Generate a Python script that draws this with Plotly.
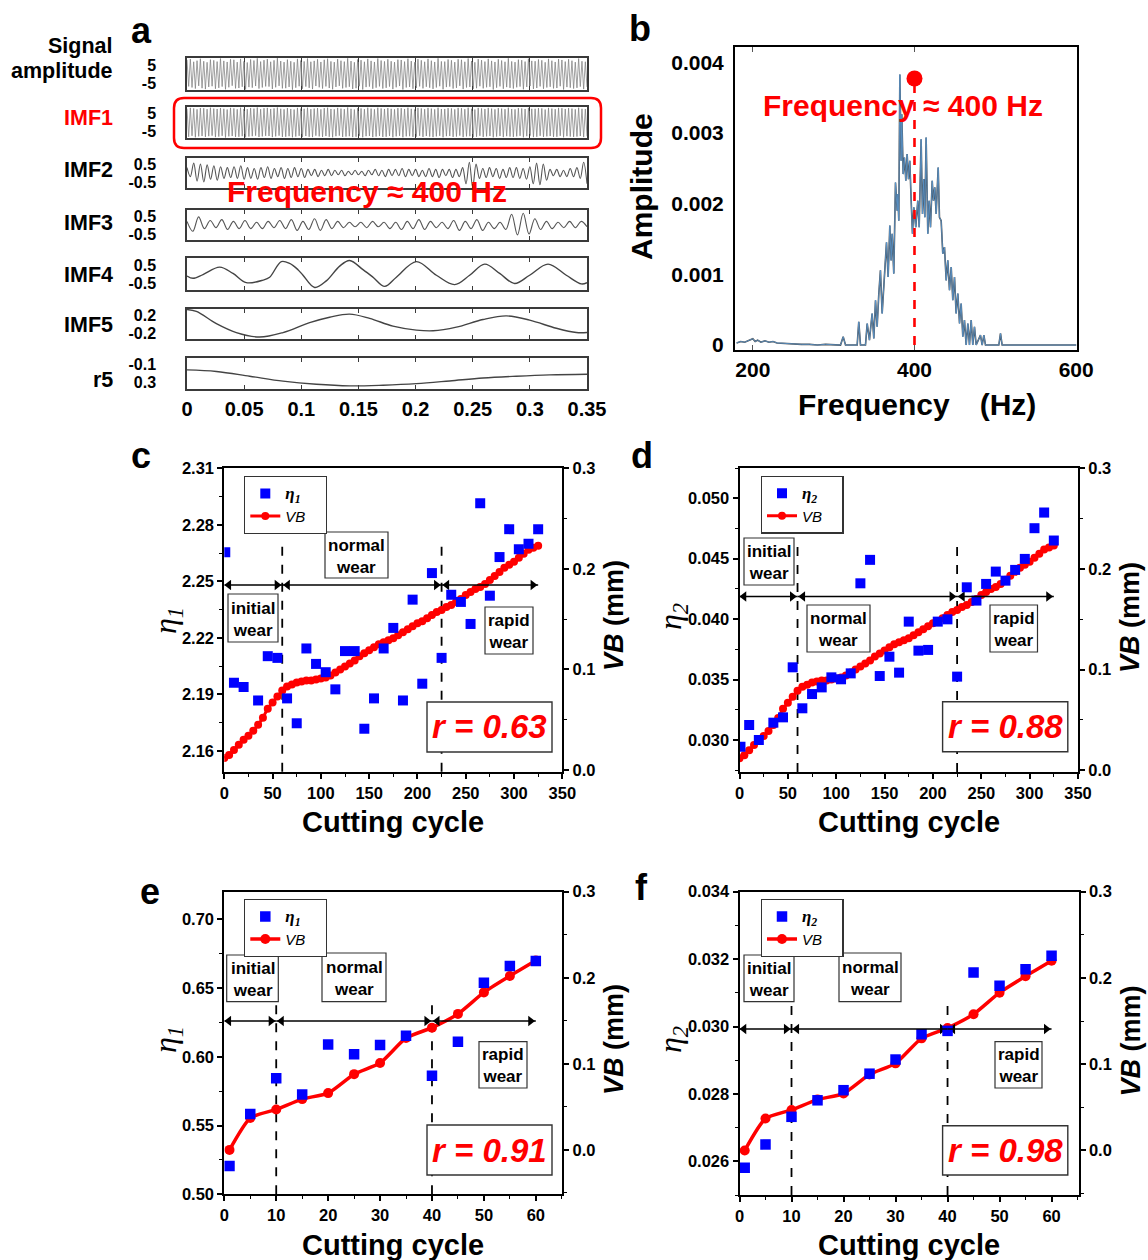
import numpy as np
import plotly.graph_objects as go

W, H = 1148, 1260          # browser window (page margin is removed after plotting)
FONT = "Liberation Sans, Arial, Helvetica, sans-serif"
SERIF = "Liberation Serif, Times New Roman, serif"

# ======================= DATA =======================
# ---- panel a : EMD decomposition ----
time_ticks = [0, 0.05, 0.1, 0.15, 0.2, 0.25, 0.3, 0.35]
time_tick_text = ["0", "0.05", "0.1", "0.15", "0.2", "0.25", "0.3", "0.35"]

signal_ext = [
    7.8, -6.9, 8.3, -7.5, 6.8, -8.1, 7.4, -6.6, 8.5, -7.9,
    7.1, -8.4, 6.5, -7.2, 8.0, -6.8, 7.6, -8.2, 6.9, -7.7,
    8.6, -7.0, 7.3, -8.5, 6.7, -7.4, 8.2, -6.5, 7.9, -8.0,
    6.6, -7.8, 8.4, -7.1, 7.0, -8.6, 6.4, -7.3, 8.1, -7.6,
    7.5, -6.7, 8.7, -8.1, 6.9, -7.5, 7.7, -6.9, 8.3, -7.0,
    6.8, -8.3, 7.6, -7.4, 8.8, -6.6, 7.2, -8.0, 6.6, -7.9,
    8.0, -7.2, 7.1, -8.7, 6.5, -7.6, 8.4, -6.8, 7.5, -8.2,
    7.0, -7.0, 8.6, -7.7, 6.8, -8.4, 7.3, -6.7, 8.2, -7.4,
    6.7, -8.1, 7.9, -6.9, 8.5, -7.8, 7.0, -8.5, 6.6, -7.2,
    8.3, -6.6, 7.4, -8.0, 6.9, -7.5, 8.7, -7.1, 7.2, -8.3,
    6.5, -7.9, 8.1, -6.8, 7.7, -8.6, 6.8, -7.3, 8.4, -7.0,
    7.3, -8.2, 6.7, -7.6, 8.6, -6.9, 7.5, -8.1, 7.0, -7.7,
    8.2, -7.0, 7.1, -8.4, 6.6, -7.4, 8.0, -6.7, 7.8, -8.6,
    6.9, -7.5, 8.5, -7.2, 7.2, -8.2, 6.5, -7.8, 8.3, -6.9,
    7.6, -8.0, 6.8, -7.1, 8.4, -7.6, 7.4, -8.3, 6.7, -7.5,
    8.7, -6.8, 7.0, -8.5, 6.9, -7.3, 8.1, -7.0, 7.6, -8.1,
    6.6, -7.7, 8.2, -6.6, 7.9, -8.4, 6.8, -7.5, 8.6, -7.2,
    7.2, -8.3, 6.5, -7.9, 8.3, -6.8, 7.7, -8.0, 6.9, -7.4,
    8.4, -7.1, 7.3, -8.6, 6.7, -7.6, 8.2, -6.9, 7.5, -8.2,
    6.8, -7.3, 8.7, -7.7, 7.0, -8.1, 6.6, -7.4, 8.0, -7.0,
    7.7, -8.5, 6.9, -7.2, 8.5, -6.7, 7.3, -8.3, 7.1, -7.8,
    8.1, -6.9, 7.6, -8.2, 6.5, -7.5, 8.4, -7.1, 7.4, -8.0,
    6.7, -7.8, 8.3, -6.8, 7.8, -8.6, 6.9, -7.3, 8.2, -7.6,
    7.4, -8.1, 6.6, -7.7, 8.6, -7.0, 7.1, -8.4, 6.8, -7.2,
]
imf1_ext = [
    7.6, -7.9, 8.1, -7.4, 7.8, -8.2, 7.3, -7.7, 8.0, -7.5,
    7.9, -8.0, 7.4, -7.6, 8.2, -7.3, 7.7, -8.1, 7.5, -7.8,
    8.0, -7.4, 7.6, -8.3, 7.2, -7.7, 8.1, -7.5, 7.8, -8.0,
    7.3, -7.9, 8.2, -7.6, 7.5, -8.2, 7.4, -7.8, 8.0, -7.6,
    7.7, -7.3, 8.3, -8.0, 7.4, -7.7, 7.9, -7.4, 8.1, -7.5,
    7.5, -8.1, 7.8, -7.7, 8.3, -7.3, 7.6, -8.0, 7.3, -7.9,
    8.0, -7.6, 7.5, -8.2, 7.2, -7.8, 8.1, -7.4, 7.7, -8.1,
    7.6, -7.5, 8.2, -7.9, 7.4, -8.1, 7.7, -7.3, 8.0, -7.7,
    7.3, -8.0, 7.9, -7.5, 8.2, -7.9, 7.5, -8.2, 7.3, -7.6,
    8.1, -7.3, 7.7, -8.0, 7.4, -7.8, 8.3, -7.6, 7.6, -8.1,
    7.2, -7.9, 8.0, -7.4, 7.8, -8.2, 7.4, -7.6, 8.2, -7.5,
    7.7, -8.1, 7.3, -7.8, 8.2, -7.5, 7.8, -8.0, 7.5, -7.9,
    8.0, -7.5, 7.6, -8.2, 7.3, -7.7, 8.0, -7.4, 7.9, -8.2,
    7.5, -7.7, 8.2, -7.6, 7.6, -8.0, 7.2, -7.9, 8.1, -7.4,
    7.8, -8.0, 7.4, -7.5, 8.1, -7.8, 7.7, -8.1, 7.3, -7.7,
    8.2, -7.4, 7.5, -8.2, 7.5, -7.6, 8.0, -7.5, 7.8, -8.0,
    7.3, -7.8, 8.1, -7.3, 7.9, -8.1, 7.4, -7.7, 8.2, -7.6,
    7.6, -8.1, 7.2, -7.9, 8.1, -7.4, 7.8, -8.0, 7.5, -7.7,
    8.1, -7.5, 7.7, -8.2, 7.3, -7.8, 8.0, -7.5, 7.7, -8.1,
    7.4, -7.6, 8.2, -7.8, 7.5, -8.0, 7.3, -7.7, 8.0, -7.4,
    7.8, -8.2, 7.5, -7.6, 8.1, -7.3, 7.6, -8.1, 7.6, -7.9,
    8.0, -7.4, 7.8, -8.0, 7.2, -7.7, 8.1, -7.5, 7.7, -8.0,
    7.4, -7.9, 8.1, -7.4, 7.9, -8.2, 7.5, -7.6, 8.0, -7.8,
    7.7, -8.0, 7.3, -7.8, 8.2, -7.5, 7.6, -8.1, 7.5, -7.6,
]
imf2_ext = [
    0.3, -0.2, 0.55, -0.45, 0.5, -0.5, 0.45, -0.35, 0.4, -0.4, 0.35, -0.3, 0.3, -0.25, 0.35, -0.3, 0.4, -0.35,
    0.3, -0.3, 0.25, -0.35, 0.3, -0.25, 0.35, -0.3, 0.25, -0.2, 0.3, -0.3, 0.25, -0.25, 0.3, -0.2, 0.25, -0.25,
    0.2, -0.15, 0.2, -0.2, 0.15, -0.15, 0.2, -0.15, 0.15, -0.1, 0.15, -0.15, 0.1, -0.1, 0.15, -0.1, 0.1, -0.15,
    0.15, -0.1, 0.2, -0.15, 0.15, -0.2, 0.2, -0.15, 0.2, -0.15, 0.25, -0.2, 0.2, -0.15, 0.2, -0.2, 0.15,
    -0.2, 0.25, -0.2, 0.2, -0.25, 0.2, -0.15, 0.2, -0.25, 0.2, -0.2, 0.3,
    -0.6, 0.6, -0.8, 0.5,
    -0.3, 0.25, -0.25, 0.3, -0.2, 0.25, -0.3, 0.2, -0.25, 0.3, -0.25, 0.3, -0.3, 0.25, -0.35, 0.35,
    -0.6, 0.55, -0.65, 0.5, -0.4,
    0.2, -0.15, 0.2, -0.2, 0.15, -0.2, 0.25, -0.2, 0.3,
    -0.3, 0.6, -0.6,
]
imf3_ext = [
    0.2, -0.35, 0.45, -0.2, 0.25, -0.15, 0.3, -0.25, 0.2, -0.2,
    0.25, -0.2, 0.15, -0.2, 0.2, -0.15, 0.25, -0.2, 0.3, -0.3,
    0.2, -0.25, 0.35, -0.3, 0.3, -0.2, 0.2, -0.15, 0.15, -0.1,
    0.15, -0.15, 0.2, -0.1, 0.15, -0.2, 0.15, -0.25, 0.2, -0.2,
    0.3, -0.25, 0.2, -0.15, 0.15, -0.2, 0.25, -0.3, 0.2, -0.2,
    0.3, -0.3, 0.15, -0.2, 0.15, -0.25, 0.6, -0.55, 0.65, -0.5,
    0.35, -0.25, 0.2, -0.2, 0.15, -0.15, 0.2, -0.15, 0.2, -0.1,
]
imf4_t = [0, 0.00525, 0.014, 0.0286, 0.04025, 0.0519, 0.0665, 0.0723, 0.0825, 0.0898, 0.0971,
          0.1015, 0.1117, 0.1219, 0.1336, 0.1423, 0.154, 0.1628, 0.173, 0.1832, 0.2007, 0.2182,
          0.2342, 0.2473, 0.2605, 0.2736, 0.2867, 0.2998, 0.3159, 0.3319, 0.345, 0.35]
imf4_v = [-0.11, -0.24, -0.03, 0.38, 0.03, -0.48, -0.34, -0.18, 0.69, 0.59, 0.24,
          -0.07, -0.75, -0.38, 0.44, 0.75, 0.24, -0.18, -0.69, -0.18, 0.69, -0.07,
          -0.59, -0.07, 0.55, 0.03, -0.53, -0.07, 0.55, -0.07, -0.55, -0.48]
imf5_t = [0, 0.00817, 0.0257, 0.0432, 0.0636, 0.084, 0.1073, 0.1248, 0.1423, 0.1598, 0.1802,
          0.2007, 0.2153, 0.2357, 0.259, 0.2794, 0.2998, 0.3232, 0.3407, 0.35]
imf5_v = [0.32, 0.28, 0.008, -0.19, -0.29, -0.19, 0.03, 0.15, 0.22, 0.125, -0.047,
          -0.135, -0.15, -0.07, 0.1, 0.18, 0.086, -0.095, -0.19, -0.19]
r5_t = [0, 0.0257, 0.0548, 0.084, 0.1132, 0.1423, 0.1715, 0.2007, 0.2298, 0.259, 0.2882, 0.3173, 0.35]
r5_v = [0.02, 0.055, 0.16, 0.27, 0.34, 0.375, 0.36, 0.325, 0.265, 0.2, 0.16, 0.13, 0.115]

# ---- panel b : spectrum of IMF1 ----
spec_freq = [180, 185, 190, 195, 200, 203, 206, 210, 215, 220, 225, 230, 240, 250, 260, 270, 280, 290, 300,
             308.5, 311.8, 314.7, 329.1, 331.1, 333.2, 339.4, 341.5, 344.3, 347.6, 349.7, 351.8, 353.8,
             355.9, 357.9, 360.0, 362.1, 364.1, 365.4, 367.4, 369.5, 371.1, 372.4, 374.4, 376.5, 378.6,
             379.4, 380.6, 381.9, 383.5, 384.3, 386.0, 387.6, 389.3, 390.9, 392.6, 394.2, 395.9, 397.5,
             399.2, 401.6, 404.1, 405.8, 408.2, 409.9, 411.5, 412.8, 414.4, 416.5, 418.1, 419.8, 421.9,
             423.5, 425.1, 426.8, 429.3, 430.9, 433.0, 435.0, 437.1, 439.2, 441.2, 443.3, 445.4, 447.4,
             449.5, 451.5, 453.6, 455.7, 457.7, 459.8, 461.8, 463.9, 466.0, 468.0, 470.1, 472.1, 474.2,
             476.3, 481.6, 483.7, 485.8, 487.8, 504.3, 506.4, 508.4, 520, 540, 560, 580, 600]
spec_amp_e3 = [0.03, 0.05, 0.04, 0.06, 0.09, 0.05, 0.07, 0.04, 0.06, 0.04, 0.05, 0.03, 0.02, 0.02, 0.01, 0.01, 0.0, 0.01, 0.0,
               0.0, 0.117, 0.0, 0.0, 0.329, 0.0, 0.0, 0.305, 0.07, 0.446, 0.094, 0.634, 0.258,
               0.728, 1.056, 0.446, 0.822, 1.197, 1.455, 0.962, 1.69, 1.197, 1.573, 1.01, 2.3, 1.9,
               2.136, 1.76, 3.826, 2.606, 3.263, 2.418, 2.652, 2.324, 2.7, 2.347, 2.606, 2.042, 1.573,
               1.948, 1.666, 2.042, 1.666, 2.911, 1.855, 2.347, 1.807, 2.934, 1.573, 2.042, 1.666, 2.324,
               2.042, 2.23, 1.855, 2.511, 1.807, 1.76, 1.291, 1.385, 0.915, 1.197, 0.775, 1.103, 0.634,
               0.962, 0.446, 0.728, 0.305, 0.587, 0.117, 0.352, 0.0, 0.305, 0.0, 0.352, 0.0, 0.258,
               0.0, 0.141, 0.0, 0.141, 0.0, 0.0, 0.164, 0.0, 0.0, 0.01, 0.0, 0.01, 0.0]
peak_freq = 400
peak_amp = 0.00377
freq_ticks = [200, 400, 600]
amp_ticks = [0, 0.001, 0.002, 0.003, 0.004]
amp_tick_text = ["0", "0.001", "0.002", "0.003", "0.004"]

# ---- panels c, d : long tool-life test ----
cyc_long_eta = [1, 10, 20, 35, 45, 55, 65, 75, 85, 95, 105, 115, 125, 135, 145, 155, 165, 175, 185,
                195, 205, 215, 225, 235, 245, 255, 265, 275, 285, 295, 305, 315, 325]
eta1_long = [2.2654, 2.1962, 2.1939, 2.1868, 2.2103, 2.2094, 2.1879, 2.1747, 2.2144, 2.2062, 2.2018,
             2.1927, 2.2130, 2.2130, 2.1718, 2.1879, 2.2144, 2.2253, 2.1868, 2.2403, 2.1957, 2.2544,
             2.2094, 2.2429, 2.2391, 2.2274, 2.2915, 2.2424, 2.2629, 2.2777, 2.2671, 2.2699, 2.2777]
eta2_long = [0.02944, 0.03124, 0.02999, 0.03143, 0.03187, 0.03601, 0.03262, 0.03380, 0.03435, 0.03518,
             0.03502, 0.03551, 0.04296, 0.04490, 0.03529, 0.03689, 0.03557, 0.03979, 0.03739, 0.03745,
             0.03979, 0.03998, 0.03524, 0.04263, 0.04153, 0.04291, 0.04393, 0.04318, 0.04407, 0.04498,
             0.04752, 0.04881, 0.04650]
cyc_long_vb = list(range(0, 330, 5))
vb_long = [0.012, 0.015, 0.020, 0.025, 0.030, 0.034, 0.039, 0.045, 0.052, 0.061,
           0.067, 0.073, 0.079, 0.083, 0.085, 0.087, 0.088, 0.089, 0.089, 0.090,
           0.091, 0.092, 0.094, 0.097, 0.100, 0.103, 0.106, 0.109, 0.113, 0.116,
           0.119, 0.122, 0.125, 0.127, 0.129, 0.131, 0.134, 0.137, 0.140, 0.143,
           0.146, 0.148, 0.151, 0.154, 0.157, 0.159, 0.162, 0.164, 0.167, 0.170,
           0.174, 0.177, 0.180, 0.182, 0.185, 0.189, 0.193, 0.197, 0.201, 0.204,
           0.207, 0.211, 0.215, 0.219, 0.221, 0.223]
stage_bounds_long = [60, 225]
last_cycle_long = 325

# ---- panels e, f : short test ----
cyc_short = [1, 5, 10, 15, 20, 25, 30, 35, 40, 45, 50, 55, 60]
eta1_short = [0.5206, 0.5584, 0.5843, 0.5726, 0.6090, 0.6019, 0.6085, 0.6153, 0.5862, 0.6109, 0.6538, 0.6659, 0.6697]
eta2_short = [0.02581, 0.02650, 0.02732, 0.02781, 0.02811, 0.02860, 0.02902, 0.02977, 0.02987, 0.03160, 0.03121, 0.03170, 0.03210]
vb_short = [0.0, 0.037, 0.047, 0.059, 0.066, 0.088, 0.101, 0.130, 0.142, 0.158, 0.183, 0.202, 0.220]
stage_bounds_short = [10, 40]
last_cycle_short = 60

r_values = {"c": "0.63", "d": "0.88", "e": "0.91", "f": "0.98"}

# ======================= HELPERS =======================
# layout positions are given in page pixels and converted to paper fractions here


def px(x):
    return x / W


def py(y):
    return 1 - y / H


def xdom(a, b):
    return [px(a), px(b)]


def ydom(top, bot):
    return [py(bot), py(top)]


def xk(i):
    return "xaxis" if i == 1 else f"xaxis{i}"


def yk(i):
    return "yaxis" if i == 1 else f"yaxis{i}"


def xr(i):
    return "x" if i == 1 else f"x{i}"


def yr(i):
    return "y" if i == 1 else f"y{i}"


def ann(text, x, y, size, color="black", bold=True, angle=0, xanchor="center",
        family=FONT, italic=False, yanchor="middle", align="center"):
    return dict(text=text, x=px(x), y=py(y), xref="paper", yref="paper", showarrow=False,
                font=dict(size=size, color=color, family=family,
                          weight="bold" if bold else "normal",
                          style="italic" if italic else "normal"),
                textangle=angle, xanchor=xanchor, yanchor=yanchor, align=align)


def rect(x0, y0, x1, y1, lw=1.2, color="#333", fill="white"):
    return dict(type="rect", xref="paper", yref="paper", x0=px(x0), x1=px(x1), y0=py(y1), y1=py(y0),
                line=dict(color=color, width=lw), fillcolor=fill, layer="above")


def rrect_path(x0, y0, x1, y1, r):
    X0, X1, Y0, Y1 = px(x0), px(x1), py(y0), py(y1)
    rx, ry = r / W, r / H
    return (f"M {X0+rx},{Y0} L {X1-rx},{Y0} Q {X1},{Y0} {X1},{Y0-ry} L {X1},{Y1+ry} "
            f"Q {X1},{Y1} {X1-rx},{Y1} L {X0+rx},{Y1} Q {X0},{Y1} {X0},{Y1+ry} "
            f"L {X0},{Y0-ry} Q {X0},{Y0} {X0+rx},{Y0} Z")


fig = go.Figure()
layout = dict(width=W, height=H, margin=dict(l=0, r=0, t=0, b=0, pad=0, autoexpand=False),
              paper_bgcolor="white", plot_bgcolor="rgba(0,0,0,0)",
              font=dict(family=FONT, color="black"), showlegend=True)
annotations = []
shapes = []

# ======================= PANEL a =======================
rows = [
    dict(label=["Signal", "amplitude"], vals=signal_ext, t=None, top=58, bot=90, rng=[-8.9, 8.9],
         tv=[5, -5], tt=["5", "-5"], dense=True, lab_y=[46, 71]),
    dict(label=["IMF1"], vals=imf1_ext, t=None, top=107, bot=138, rng=[-8.6, 8.6],
         tv=[5, -5], tt=["5", "-5"], dense=True, lab_y=[117.5], red=True),
    dict(label=["IMF2"], vals=imf2_ext, t=None, top=158, bot=188, rng=[-0.833, 0.833],
         tv=[0.5, -0.5], tt=["0.5", "-0.5"], lab_y=[170]),
    dict(label=["IMF3"], vals=imf3_ext, t=None, top=210, bot=240, rng=[-0.833, 0.833],
         tv=[0.5, -0.5], tt=["0.5", "-0.5"], lab_y=[222.5]),
    dict(label=["IMF4"], vals=imf4_v, t=imf4_t, top=258, bot=290, rng=[-0.889, 0.889],
         tv=[0.5, -0.5], tt=["0.5", "-0.5"], lab_y=[274.5]),
    dict(label=["IMF5"], vals=imf5_v, t=imf5_t, top=309, bot=339, rng=[-0.333, 0.333],
         tv=[0.2, -0.2], tt=["0.2", "-0.2"], lab_y=[325.5]),
    dict(label=["r5"], vals=r5_v, t=r5_t, top=358, bot=389, rng=[0.444, -0.244],
         tv=[-0.1, 0.3], tt=["-0.1", "0.3"], lab_y=[380]),
]
FRAME = "#3a3a3a"
for i, row in enumerate(rows, start=1):
    tt = row["t"] if row["t"] is not None else np.linspace(0, 0.35, len(row["vals"]))
    if row.get("dense"):
        line = dict(color="#808080", width=0.75)
    elif row["t"] is None:
        line = dict(color="#555555", width=1.1, shape="spline", smoothing=1.0)
    else:
        line = dict(color="#444444", width=1.4, shape="spline", smoothing=1.0)
    fig.add_trace(go.Scatter(x=tt, y=row["vals"], mode="lines", line=line, showlegend=False,
                             xaxis=xr(i), yaxis=yr(i), hoverinfo="skip"))
    last = i == len(rows)
    layout[xk(i)] = dict(domain=xdom(187, 587), anchor=yr(i), range=[0, 0.35],
                         tickvals=time_ticks, ticktext=time_tick_text,
                         showline=True, mirror="ticks", linecolor=FRAME, linewidth=1.5,
                         ticks="inside", ticklen=4, tickcolor=FRAME, tickwidth=1,
                         showticklabels=last, tickfont=dict(size=20, weight="bold"),
                         ticklabelstandoff=1, automargin=False,
                         showgrid=bool(row.get("dense")), gridcolor="#666", gridwidth=0.8,
                         zeroline=False, fixedrange=True)
    layout[yk(i)] = dict(domain=ydom(row["top"], row["bot"]), anchor=xr(i), range=row["rng"],
                         tickvals=row["tv"], ticktext=row["tt"], ticks="", automargin=False,
                         showline=True, mirror=True, linecolor=FRAME, linewidth=1.5,
                         showgrid=False, zeroline=False, tickfont=dict(size=16, weight="bold"),
                         ticklabelstandoff=26, fixedrange=True)
    for txt, ly in zip(row["label"], row["lab_y"]):
        annotations.append(ann(txt, 115, ly, 21.5, color="#ff0000" if row.get("red") else "black",
                               xanchor="right"))

shapes.append(dict(type="path", xref="paper", yref="paper", path=rrect_path(174, 98, 601, 148, 10),
                   line=dict(color="#ff0000", width=2.5), fillcolor="rgba(0,0,0,0)", layer="above"))
annotations.append(ann("Frequency ≈ 400 Hz", 367, 191, 30, color="#ff0000"))
annotations.append(ann("a", 141, 30, 36))

# ======================= PANEL b =======================
spec_amp = [v * 1e-3 for v in spec_amp_e3]
fig.add_trace(go.Scatter(x=spec_freq, y=spec_amp, mode="lines", line=dict(color="#4a4a4a", width=1.6),
                         showlegend=False, xaxis="x8", yaxis="y8", hoverinfo="skip"))
fig.add_trace(go.Scatter(x=spec_freq, y=spec_amp, mode="lines", line=dict(color="#5b9bd5", width=0.8),
                         showlegend=False, xaxis="x8", yaxis="y8", hoverinfo="skip"))
fig.add_trace(go.Scatter(x=[peak_freq, peak_freq], y=[0, peak_amp], mode="lines",
                         line=dict(color="#ff0000", width=2.6, dash="dash"),
                         showlegend=False, xaxis="x8", yaxis="y8", hoverinfo="skip"))
fig.add_trace(go.Scatter(x=[peak_freq], y=[peak_amp], mode="markers",
                         marker=dict(color="#ff0000", size=16),
                         showlegend=False, xaxis="x8", yaxis="y8", hoverinfo="skip"))
layout["xaxis8"] = dict(domain=xdom(735, 1077), anchor="y8", range=[178, 601], tickvals=freq_ticks,
                        showline=True, mirror="ticks", linecolor="black", linewidth=2,
                        ticks="inside", ticklen=5, tickcolor="#555", tickfont=dict(size=21, weight="bold"),
                        ticklabelstandoff=0, automargin=False, showgrid=False, zeroline=False,
                        fixedrange=True)
layout["yaxis8"] = dict(domain=ydom(46.7, 350), anchor="x8", range=[-0.00007, 0.00422],
                        tickvals=amp_ticks, ticktext=amp_tick_text, ticks="",
                        showline=True, mirror=True, linecolor="black", linewidth=2,
                        tickfont=dict(size=21, weight="bold"), ticklabelstandoff=5, automargin=False,
                        showgrid=False, zeroline=False, fixedrange=True)
annotations.append(ann("Frequency ≈ 400 Hz", 903, 105, 30, color="#ff0000"))
annotations.append(ann("Amplitude", 641, 187, 30, angle=-90))
annotations.append(ann("Frequency\u2003(Hz)", 917, 405, 30))
annotations.append(ann("b", 640, 28, 36))

# ======================= PANELS c-f =======================
panels = [
    dict(letter="c", xi=9, yb=9, yo=10, leg="legend", x0=224.3, x1=562.3, top=468.3, bot=771.7,
         xrange=[0, 350], xdtick=50, xminor=25, ex=cyc_long_eta, ev=eta1_long, vx=cyc_long_vb, vv=vb_long,
         erange=[2.149, 2.31], edtick=0.03, etick0=2.16, efmt=".2f", eminor=0.015,
         vrange=[-0.0017, 0.3], sub="1", bounds=stage_bounds_long, last=last_cycle_long,
         arrow_y=585, dash_top=546, msize=10, vsize=8, vwidth=3,
         boxes=[("initial<br>wear", 228, 594, 278, 642), ("normal<br>wear", 325, 532, 388, 578),
                ("rapid<br>wear", 485, 607, 533, 654)],
         rbox=(427, 702, 552, 752), legpos=(244, 476),
         eta_lab=(167, 621), vb_lab=(614, 616), cc_lab=(393, 822), let=(141, 455)),
    dict(letter="d", xi=10, yb=11, yo=12, leg="legend2", x0=739.5, x1=1078, top=468, bot=772,
         xrange=[0, 350], xdtick=50, xminor=25, ex=cyc_long_eta, ev=eta2_long, vx=cyc_long_vb, vv=vb_long,
         erange=[0.02735, 0.0525], edtick=0.005, etick0=0.03, efmt=".3f", eminor=0.0025,
         vrange=[-0.0017, 0.3], sub="2", bounds=stage_bounds_long, last=last_cycle_long,
         arrow_y=596.5, dash_top=545, msize=10, vsize=8, vwidth=3,
         boxes=[("initial<br>wear", 744, 538, 794, 585), ("normal<br>wear", 807, 605, 870, 652),
                ("rapid<br>wear", 990, 605, 1037.5, 652)],
         rbox=(942.6, 701.7, 1067.8, 751.7), legpos=(760.7, 475.7),
         eta_lab=(672, 617), vb_lab=(1130, 618), cc_lab=(908.5, 822), let=(642, 455)),
    dict(letter="e", xi=11, yb=13, yo=14, leg="legend3", x0=224.3, x1=562.3, top=891.7, bot=1194.3,
         xrange=[0, 65.1], xdtick=10, xminor=5, ex=cyc_short, ev=eta1_short, vx=cyc_short, vv=vb_short,
         erange=[0.50, 0.72], edtick=0.05, etick0=0.5, efmt=".2f", eminor=0.025,
         vrange=[-0.0516, 0.3], sub="1", bounds=stage_bounds_short, last=last_cycle_short,
         arrow_y=1021, dash_top=1005, msize=10.5, vsize=10, vwidth=3.5,
         boxes=[("initial<br>wear", 226.7, 955, 278.3, 1001.7), ("normal<br>wear", 322, 953, 386, 1001.7),
                ("rapid<br>wear", 479, 1041.7, 527, 1088)],
         rbox=(427, 1125, 552, 1175), legpos=(244, 899),
         eta_lab=(167, 1040), vb_lab=(614, 1040), cc_lab=(392.5, 1245), let=(150, 891)),
    dict(letter="f", xi=12, yb=15, yo=16, leg="legend4", x0=739.5, x1=1078.6, top=891.7, bot=1195,
         xrange=[0, 65.2], xdtick=10, xminor=5, ex=cyc_short, ev=eta2_short, vx=cyc_short, vv=vb_short,
         erange=[0.025, 0.034], edtick=0.002, etick0=0.026, efmt=".3f", eminor=0.001,
         vrange=[-0.0516, 0.3], sub="2", bounds=stage_bounds_short, last=last_cycle_short,
         arrow_y=1029, dash_top=1005, msize=10.5, vsize=10, vwidth=3.5,
         boxes=[("initial<br>wear", 744, 955, 794, 1001.7), ("normal<br>wear", 839, 953, 901, 1001.7),
                ("rapid<br>wear", 995, 1041.7, 1042, 1088)],
         rbox=(942.6, 1125.7, 1067.8, 1175), legpos=(760.7, 899),
         eta_lab=(672, 1040), vb_lab=(1130.5, 1041), cc_lab=(908.5, 1245), let=(641, 887)),
]

for p in panels:
    xa, yb, yo = p["xi"], p["yb"], p["yo"]
    eta_name = (f'<span style="font-family:{SERIF};font-size:17px"><b><i>η<sub>{p["sub"]}</sub></i></b></span>\u2003')
    fig.add_trace(go.Scatter(x=p["ex"], y=p["ev"], mode="markers", name=eta_name,
                             marker=dict(symbol="square", size=p["msize"], color="#0000ff"),
                             xaxis=xr(xa), yaxis=yr(yo), legend=p["leg"], hoverinfo="skip"))
    fig.add_trace(go.Scatter(x=p["vx"], y=p["vv"], mode="lines+markers", name="<i>VB</i>\u2003",
                             line=dict(color="#ff0000", width=p["vwidth"], shape="spline", smoothing=0.6),
                             marker=dict(symbol="circle", size=p["vsize"], color="#ff0000"),
                             xaxis=xr(xa), yaxis=yr(yb), legend=p["leg"], hoverinfo="skip"))
    tickfont = dict(size=16.5, weight="bold")
    layout[xk(xa)] = dict(domain=xdom(p["x0"], p["x1"]), anchor=yr(yb), range=p["xrange"],
                          dtick=p["xdtick"], tick0=0, showline=True, mirror=True, linecolor="black",
                          linewidth=2, ticks="outside", ticklen=5, tickwidth=1.5, tickcolor="black",
                          minor=dict(ticks="outside", ticklen=3, tickwidth=1.2, dtick=p["xminor"], tick0=0,
                                     tickcolor="black", showgrid=False),
                          tickfont=tickfont, automargin=False, showgrid=False, zeroline=False,
                          fixedrange=True)
    layout[yk(yb)] = dict(domain=ydom(p["top"], p["bot"]), anchor=xr(xa), side="right",
                          range=p["vrange"], dtick=0.1, tick0=0, tickformat=".1f",
                          showline=True, mirror=True, linecolor="black", linewidth=2,
                          ticks="outside", ticklen=5, tickwidth=1.5, tickcolor="black",
                          minor=dict(ticks="outside", ticklen=3, tickwidth=1.2, dtick=0.05, tick0=0,
                                     tickcolor="black", showgrid=False),
                          tickfont=tickfont, automargin=False, showgrid=False, zeroline=False,
                          fixedrange=True)
    layout[yk(yo)] = dict(domain=ydom(p["top"], p["bot"]), anchor=xr(xa), side="left",
                          overlaying=yr(yb), range=p["erange"], dtick=p["edtick"], tick0=p["etick0"],
                          tickformat=p["efmt"], showline=True, linecolor="black", linewidth=2,
                          ticks="outside", ticklen=5, tickwidth=1.5, tickcolor="black",
                          minor=dict(ticks="outside", ticklen=3, tickwidth=1.2, dtick=p["eminor"],
                                     tick0=p["etick0"], tickcolor="black", showgrid=False),
                          tickfont=tickfont, automargin=False, showgrid=False, zeroline=False,
                          fixedrange=True)
    lx, ly = p["legpos"]
    layout[p["leg"]] = dict(x=px(lx), y=py(ly), xanchor="left", yanchor="top", bgcolor="white",
                            bordercolor="#333", borderwidth=1.3, font=dict(size=15, family=FONT),
                            itemwidth=30, tracegroupgap=0, traceorder="normal")
    # stage boundaries (dashed)
    for b in p["bounds"]:
        shapes.append(dict(type="line", xref=xr(xa), yref="paper", x0=b, x1=b,
                           y0=py(p["bot"]), y1=py(p["dash_top"]),
                           line=dict(color="black", width=1.8, dash="dash"), layer="below"))
    # double-headed stage arrows: line + triangular heads
    v0, v1 = p["vrange"]
    arrow_v = v0 + (p["bot"] - p["arrow_y"]) / (p["bot"] - p["top"]) * (v1 - v0)
    cyc_per_px = (p["xrange"][1] - p["xrange"][0]) / (p["x1"] - p["x0"])
    half = 4.5 * cyc_per_px
    segs = [(0, p["bounds"][0]), (p["bounds"][0], p["bounds"][1]), (p["bounds"][1], p["last"])]
    head_x, head_sym = [], []
    for s0, s1 in segs:
        shapes.append(dict(type="line", xref=xr(xa), yref=yr(yb), x0=s0, x1=s1, y0=arrow_v, y1=arrow_v,
                           line=dict(color="black", width=1.6), layer="above"))
        head_x += [s0 + half + (0.8 * cyc_per_px if s0 > 0 else 0), s1 - half - 0.8 * cyc_per_px]
        head_sym += ["triangle-left", "triangle-right"]
    fig.add_trace(go.Scatter(x=head_x, y=[arrow_v] * len(head_x), mode="markers",
                             marker=dict(symbol=head_sym, size=9, color="black"),
                             showlegend=False, xaxis=xr(xa), yaxis=yr(yb), hoverinfo="skip"))
    # stage label boxes
    for txt, bx0, by0, bx1, by1 in p["boxes"]:
        shapes.append(rect(bx0, by0, bx1, by1))
        annotations.append(ann(txt, (bx0 + bx1) / 2, (by0 + by1) / 2 + 1, 17))
    rx0, ry0, rx1, ry1 = p["rbox"]
    shapes.append(rect(rx0, ry0, rx1, ry1, lw=1.4))
    annotations.append(ann(f"r = {r_values[p['letter']]}", (rx0 + rx1) / 2, (ry0 + ry1) / 2, 33,
                           color="#ff0000", italic=True))
    # axis titles
    ex_, ey_ = p["eta_lab"]
    annotations.append(ann(f"η<sub>{p['sub']}</sub>", ex_, ey_, 32, bold=False, italic=True,
                           family=SERIF, angle=-90))
    vx_, vy_ = p["vb_lab"]
    annotations.append(ann("<i>VB</i> (mm)", vx_, vy_, 27, angle=-90))
    cx_, cy_ = p["cc_lab"]
    annotations.append(ann("Cutting cycle", cx_, cy_, 29))
    lx_, ly_ = p["let"]
    annotations.append(ann(p["letter"], lx_, ly_, 36))

layout["annotations"] = annotations
layout["shapes"] = shapes
fig.update_layout(**layout)

fig.write_html("out.html", config={"displayModeBar": False},
               post_script="document.body.style.margin='0px';document.body.style.overflow='hidden';")
